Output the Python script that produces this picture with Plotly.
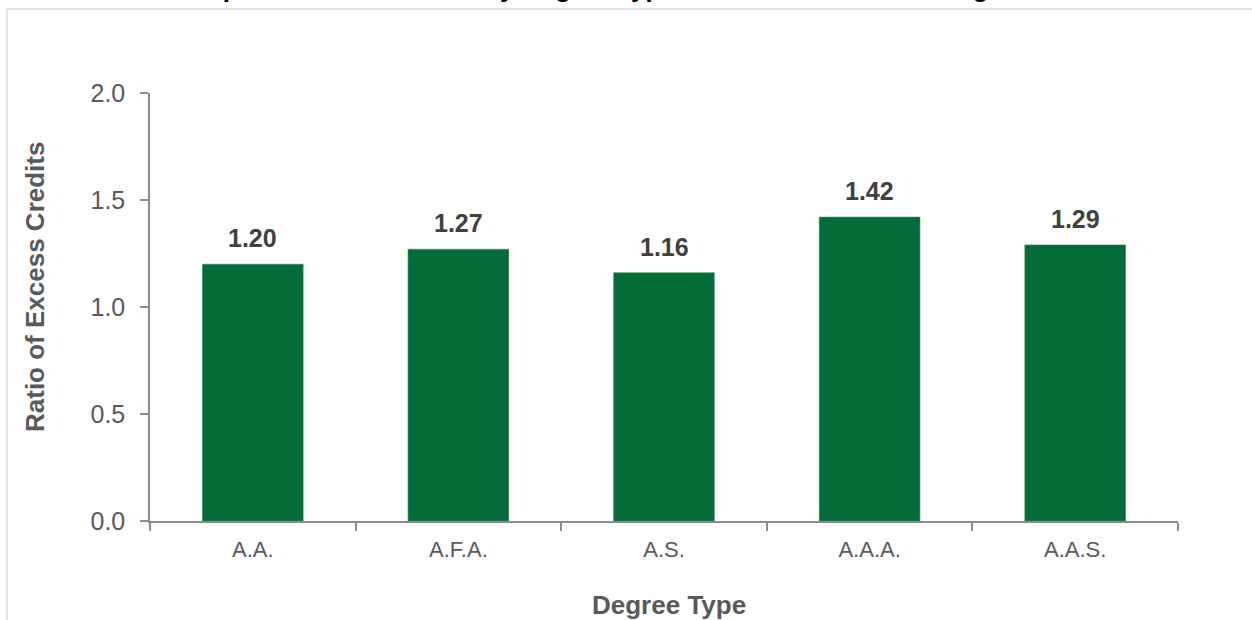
import plotly.graph_objects as go

categories = ["A.A.", "A.F.A.", "A.S.", "A.A.A.", "A.A.S."]
values = [1.20, 1.27, 1.16, 1.42, 1.29]
value_labels = ["1.20", "1.27", "1.16", "1.42", "1.29"]
y_ticks = [0.0, 0.5, 1.0, 1.5, 2.0]
y_tick_labels = ["0.0", "0.5", "1.0", "1.5", "2.0"]
title_text = "Excess Credits per Transfer Student by Degree Type for All Students Entering"
x_title = "Degree Type"
y_title = "Ratio of Excess Credits"

W, H = 1252, 620
L, R, T, B = 150, 74, 93, 99
PW, PH = W - L - R, H - T - B

def px_x(px):
    return (px - L) / PW

def px_y(py):
    return (H - B - py) / PH

FONT = "Arial, Liberation Sans, sans-serif"
GREY = "#595959"
AXIS = "#8c8c8c"

fig = go.Figure()
fig.add_trace(go.Bar(
    x=categories, y=values,
    marker=dict(color="#066B3A", line=dict(color="#3a8a5e", width=0.6)),
    hoverinfo="x+y",
))

annotations = []
for c, v, t in zip(categories, values, value_labels):
    annotations.append(dict(
        x=c, y=v, xref="x", yref="y", text="<b>%s</b>" % t, showarrow=False,
        yanchor="bottom", yshift=10,
        font=dict(family=FONT, size=25, color="#404040"),
    ))
annotations.append(dict(
    x=px_x(669), y=px_y(605), xref="paper", yref="paper", text="<b>%s</b>" % x_title,
    showarrow=False, xanchor="center", yanchor="middle",
    font=dict(family=FONT, size=26, color=GREY),
))
annotations.append(dict(
    x=px_x(35), y=px_y(287), xref="paper", yref="paper", text="<b>%s</b>" % y_title,
    showarrow=False, xanchor="center", yanchor="middle", textangle=-90,
    font=dict(family=FONT, size=26, color=GREY),
))
# chart title: sits above the visible frame, only its descenders peek in
annotations.append(dict(
    x=px_x(27), y=px_y(5), xref="paper", yref="paper", text="<b>%s</b>" % title_text,
    showarrow=False, xanchor="left", yanchor="bottom",
    font=dict(family=FONT, size=26, color="#000000"),
))

fig.update_layout(
    width=W, height=H,
    margin=dict(l=L, r=R, t=T, b=B),
    paper_bgcolor="white", plot_bgcolor="white",
    bargap=0.51, showlegend=False,
    xaxis=dict(
        tickfont=dict(family=FONT, size=22, color=GREY),
        showline=True, linecolor=AXIS, linewidth=1.5,
        ticks="outside", tickson="boundaries", ticklen=8, tickcolor=AXIS, tickwidth=1.5,
        ticklabelstandoff=8,
        showgrid=False, zeroline=False,
    ),
    yaxis=dict(
        range=[0, 2], tickvals=y_ticks, ticktext=y_tick_labels,
        tickfont=dict(family=FONT, size=25, color=GREY),
        showline=True, linecolor=AXIS, linewidth=1.5,
        ticks="outside", ticklen=8, tickcolor=AXIS, tickwidth=1.5,
        ticklabelstandoff=10,
        showgrid=False, zeroline=False,
    ),
    annotations=annotations,
    shapes=[
        dict(type="line", xref="paper", yref="paper", x0=px_x(7), x1=px_x(W + 5), y0=px_y(9), y1=px_y(9),
             line=dict(color="#d9d9d9", width=1.5)),
        dict(type="line", xref="paper", yref="paper", x0=px_x(7), x1=px_x(7), y0=px_y(9), y1=px_y(H + 5),
             line=dict(color="#d9d9d9", width=1.5)),
    ],
)

fig.write_html("out.html", config={"displayModeBar": False},
               post_script="document.body.style.margin='0';document.body.style.overflow='hidden';")
